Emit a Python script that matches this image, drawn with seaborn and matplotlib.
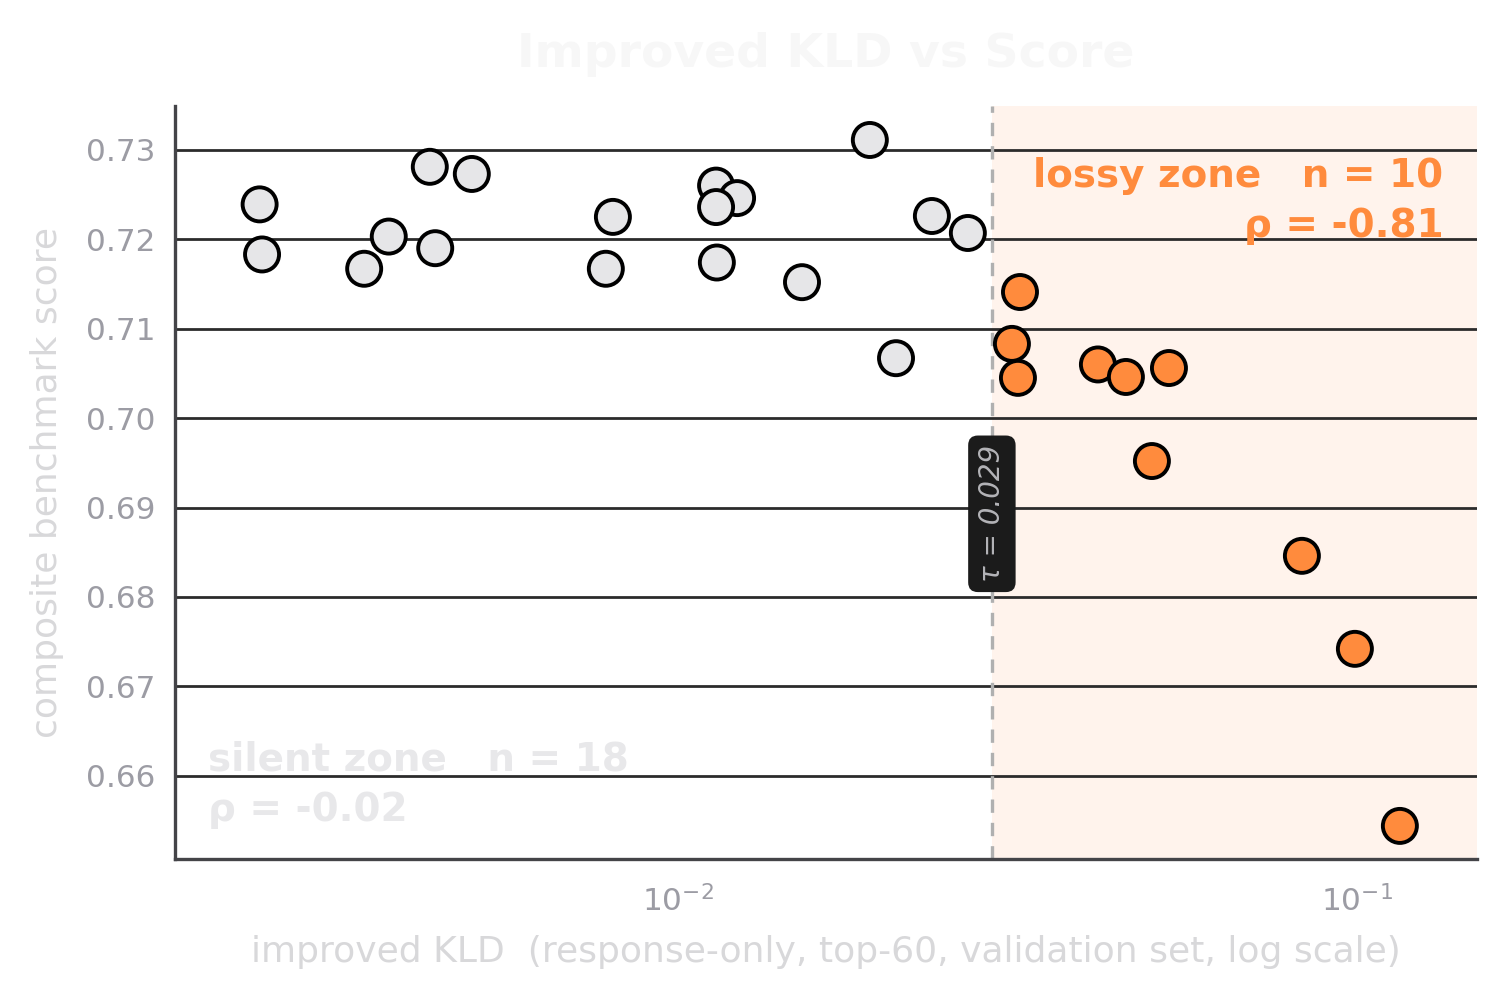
import numpy as np
import pandas as pd
import matplotlib.pyplot as plt
import seaborn as sns

# datos ======================================================================
kld_silent = [0.00242, 0.00244, 0.00345, 0.00375, 0.00431, 0.00439, 0.00497,
              0.00783, 0.00802, 0.01138, 0.01222, 0.01138, 0.01141, 0.01523,
              0.01917, 0.02095, 0.02366, 0.02673]
score_silent = [0.7239, 0.7183, 0.7167, 0.7203, 0.7281, 0.7190, 0.7273,
                0.7167, 0.7225, 0.7260, 0.7246, 0.7236, 0.7174, 0.7152,
                0.7311, 0.7067, 0.7226, 0.7207]

kld_lossy = [0.03190, 0.03104, 0.03168, 0.04155, 0.04569, 0.05287, 0.04990,
             0.08299, 0.09933, 0.11570]
score_lossy = [0.7141, 0.7083, 0.7045, 0.7060, 0.7046, 0.7056, 0.6952,
               0.6846, 0.6742, 0.6544]

tau = 0.029
rho_silent = -0.02
rho_lossy = -0.81
yticks = [0.66, 0.67, 0.68, 0.69, 0.70, 0.71, 0.72, 0.73]

df = pd.DataFrame({
    'kld': kld_silent + kld_lossy,
    'score': score_silent + score_lossy,
    'zone': ['silent'] * len(kld_silent) + ['lossy'] * len(kld_lossy),
})

ORANGE = '#ff8b3d'
GRAY_PT = '#e6e6e8'

sns.set_style('white')
plt.rcParams['font.family'] = ['DejaVu Sans']

fig = plt.figure(figsize=(7.535, 5), dpi=200)
ax = fig.add_axes([0.1161, 0.141, 0.864, 0.753])

xmin, xmax = 0.001816, 0.1503
ax.set_xscale('log')
ax.set_xlim(xmin, xmax)
ax.set_ylim(0.6507, 0.7349)

# zona con perdida
ax.axvspan(tau, xmax, color='#fff3ec', zorder=0, lw=0)

# grid horizontal
for y in yticks:
    ax.axhline(y, color='#2b2b2b', lw=1.0, zorder=1)

ax.axvline(tau, color='#b0b0b0', ls=(0, (4, 3)), lw=1.2, zorder=2)

sns.scatterplot(data=df, x='kld', y='score', hue='zone',
                palette={'silent': GRAY_PT, 'lossy': ORANGE},
                s=150, edgecolor='black', linewidth=1.4, legend=False,
                zorder=3, ax=ax)

ax.set_yticks(yticks)
ax.set_yticklabels([f'{v:.2f}' for v in yticks])
ax.tick_params(axis='both', colors='#9c9ca4', labelsize=11.2, length=3.5, width=0.6)
ax.tick_params(axis='x', which='minor', colors='#9c9ca4', length=2, width=0.5)
ax.tick_params(axis='x', pad=6)

for s in ['top', 'right']:
    ax.spines[s].set_visible(False)
for s in ['left', 'bottom']:
    ax.spines[s].set_color('#444448')
    ax.spines[s].set_linewidth(1.2)

ax.set_xlabel('improved KLD  (response-only, top-60, validation set, log scale)',
              color='#d8d8da', fontsize=13, labelpad=6)
ax.set_ylabel('composite benchmark score', color='#d8d8da', fontsize=13, labelpad=8)
ax.set_title('Improved KLD vs Score', color='#f7f7f7', fontsize=17,
             fontweight='bold', pad=14)

# etiqueta tau
ax.text(tau, 0.6893, f'τ = {tau:.3f}', rotation=90, rotation_mode='anchor',
        ha='center', va='center', fontsize=10, style='italic', color='#b4b4b8',
        bbox=dict(boxstyle='round,pad=0.35', fc='#1b1b1b', ec='none'), zorder=5)

ax.text(0.974, 0.932, f'lossy zone   n = {len(kld_lossy)}\nρ = {rho_lossy:.2f}',
        transform=ax.transAxes, ha='right', va='top', multialignment='right',
        fontsize=14, fontweight='bold', color=ORANGE, zorder=4, linespacing=1.4)
ax.text(0.025, 0.04, f'silent zone   n = {len(kld_silent)}\nρ = {rho_silent:.2f}',
        transform=ax.transAxes, ha='left', va='bottom',
        fontsize=14, fontweight='bold', color='#e8e8ea', zorder=4, linespacing=1.4)

fig.savefig('out.png', dpi=200)
